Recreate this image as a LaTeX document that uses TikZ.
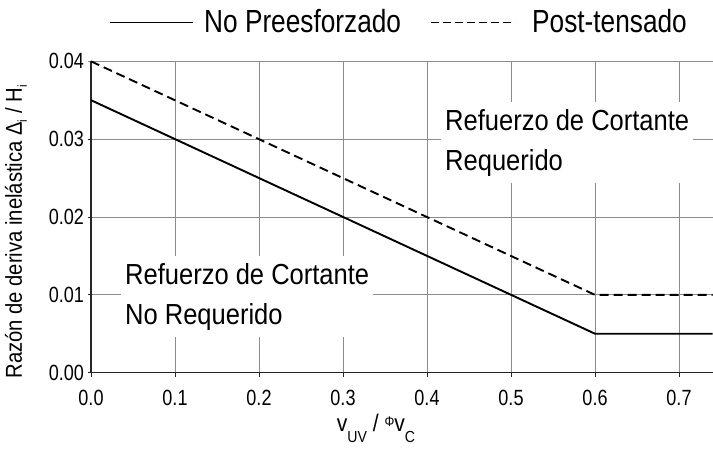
\documentclass[tikz,border=0pt]{standalone}
\usepackage{fontspec}
\setmainfont{Liberation Sans}[FakeStretch=0.82]
\newfontfamily\regfont{Liberation Sans}[FakeStretch=0.88]
\begin{document}
\begin{tikzpicture}[x=1pt,y=1pt,
  grid/.style={draw=black!45,line width=0.9pt},
  axisline/.style={draw=black!85,line width=1.2pt},
  curve/.style={draw=black,line width=1.9pt},
  dashcurve/.style={draw=black,line width=1.9pt,dash pattern=on 9pt off 5pt},
  ticklab/.style={font=\fontsize{22}{22}\selectfont,inner sep=1pt},
  region/.style={font=\regfont\fontsize{29}{40}\selectfont,align=left,fill=white,inner xsep=4pt,inner ysep=7pt,anchor=north west},
  legtext/.style={font=\fontsize{32}{32}\selectfont,anchor=base west,inner sep=0pt}]
\useasboundingbox[fill=white] (0,0) rectangle (713,449);
% legend
\coordinate (la) at (110,426.5);
\coordinate (lb) at (193,426.5);
\draw[line width=1.6pt] (la) -- (lb);
\node[legtext] (ln) at (204,416) {No Preesforzado};
\coordinate (lc) at (431,426.5);
\coordinate (ld) at (515,426.5);
\draw[line width=1.8pt,dash pattern=on 8pt off 4pt] (lc) -- (ld);
\node[legtext] (lp) at (532,416) {Post-tensado};
\begin{scope}[shift={(91,76.3)},x=840pt,y=7785pt]
  % grid
  \foreach \v in {0.1,0.2,...,0.71} \draw[grid] (\v,0) -- (\v,0.04);
  \foreach \d in {0.01,0.02,0.03} \draw[grid] (0,\d) -- (0.74,\d);
  \draw[grid] (-0.004,0.04) -- (0.74,0.04);
  % ticks
  \foreach \d in {0,0.01,0.02,0.03} \draw[axisline,line width=0.9pt] (-0.004,\d) -- (0,\d);
  \foreach \v in {0,0.1,0.2,...,0.71} \draw[axisline,line width=0.9pt] (\v,0) -- (\v,-0.0006);
  % axes
  \draw[axisline] (0,0.04) -- (0,0) -- (0.74,0);
  % tick labels
  \foreach \d/\t in {0/0.00,0.01/0.01,0.02/0.02,0.03/0.03,0.04/0.04}
    \node[ticklab,anchor=east] (y\t) at (-0.007,\d) {\t};
  \foreach \v/\t in {0/0.0,0.1/0.1,0.2/0.2,0.3/0.3,0.4/0.4,0.5/0.5,0.6/0.6,0.7/0.7}
    \node[ticklab] (x\t) at (\v,-0.0032) {\t};
  % data
  \coordinate (s0) at (0,0.035);
  \coordinate (s1) at (0.6,0.005);
  \coordinate (s2) at (0.74,0.005);
  \coordinate (p0) at (0,0.04);
  \coordinate (p1) at (0.6,0.01);
  \coordinate (p2) at (0.74,0.01);
  \draw[curve] (s0) -- (s1) -- (s2);
  \draw[dashcurve] (p0) -- (p1) -- (p2);
\end{scope}
% region labels
\node[region] (req) at (441,347) {Refuerzo de Cortante\\Requerido};
\node[region] (noreq) at (121,193) {Refuerzo de Cortante\\No Requerido};
% axis titles
\node[font=\regfont\fontsize{24}{24}\selectfont,anchor=base,inner sep=0pt] (xt) at (376,17)
  {v\raisebox{-11pt}{\fontsize{16}{16}\selectfont UV} / \raisebox{5pt}{\fontsize{14}{14}\selectfont Φ}v\raisebox{-11pt}{\fontsize{16}{16}\selectfont C}};
\node[font=\regfont\fontsize{23}{23}\selectfont,rotate=90,inner sep=0pt] (yt) at (16,217)
  {Razón de deriva inelástica Δ\raisebox{-5pt}{\fontsize{13}{13}\selectfont i} / H\raisebox{-5pt}{\fontsize{13}{13}\selectfont i}};
\end{tikzpicture}
\end{document}
